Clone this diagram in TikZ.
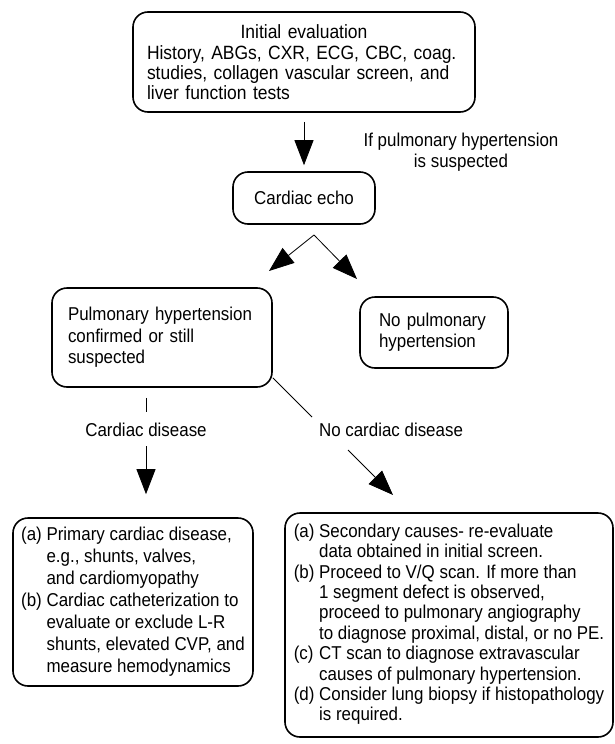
\documentclass[tikz,border=0pt]{standalone}
\usepackage{fontspec}
\setmainfont[FakeStretch=0.91]{Liberation Sans}
\usetikzlibrary{arrows.meta}

\begin{document}
\begin{tikzpicture}[x=1pt,y=-1pt,
  >={Triangle[length=25pt,width=19pt]},
  font=\fontsize{18.6}{20.4}\selectfont,
  box/.style={draw,line width=1.6pt,rounded corners=15pt,inner sep=0pt},
  link/.style={line width=0.8pt},
  lbl/.style={inner sep=0pt,align=center}]
  \useasboundingbox (0,0) rectangle (614,744);

  \node[box,align=left,minimum width=342pt,minimum height=100pt,text width=322pt,
        font=\fontsize{19.2}{20}\selectfont] (eval) at (304,62)
    {\makebox[322pt]{Initial evaluation}\\[1pt]\hspace*{4pt}History, ABGs, CXR, ECG, CBC, coag.\\\hspace*{4pt}studies, collagen vascular screen, and\\\hspace*{4pt}liver function tests};
  \node[lbl] (suspect) at (461,152) {If pulmonary hypertension\\is suspected};
  \node[box,minimum width=142pt,minimum height=52pt] (echo) at (304,198) {Cardiac echo};
  \node[box,align=left,minimum width=220pt,minimum height=99pt,text width=188pt,
        font=\fontsize{18.6}{21.5}\selectfont] (confirmed) at (162,337.5)
    {Pulmonary hypertension\\confirmed or still\\suspected};
  \node[box,align=left,minimum width=148pt,minimum height=71pt,text width=110pt,
        font=\fontsize{18.6}{21}\selectfont] (nopulm) at (434,332.5)
    {No pulmonary\\hypertension};
  \node[lbl] (cardis) at (146,430) {Cardiac disease};
  \node[lbl] (nocardis) at (391,430) {No cardiac disease};
  \node[box,minimum width=240pt,minimum height=168pt,
        font=\fontsize{18.6}{22}\selectfont] (primary) at (133,602)
    {\begin{tabular}{@{}l@{ }l@{}}
      (a) & Primary cardiac disease,\\
          & e.g., shunts, valves,\\
          & and cardiomyopathy\\
      (b) & Cardiac catheterization to\\
          & evaluate or exclude L-R\\
          & shunts, elevated CVP, and\\
          & measure hemodynamics
    \end{tabular}};
  \node[box,minimum width=328pt,minimum height=224pt] (secondary) at (449,625)
    {\begin{tabular}{@{}l@{ }l@{}}
      (a) & Secondary causes- re-evaluate\\
          & data obtained in initial screen.\\
      (b) & Proceed to V/Q scan. If more than\\
          & 1 segment defect is observed,\\
          & proceed to pulmonary angiography\\
          & to diagnose proximal, distal, or no PE.\\
      (c) & CT scan to diagnose extravascular\\
          & causes of pulmonary hypertension.\\
      (d) & Consider lung biopsy if histopathology\\
          & is required.
    \end{tabular}};

  \coordinate (fork) at (314,235);
  \coordinate (forkL) at (269,271);
  \coordinate (forkR) at (357,279);
  \coordinate (bend) at (312,417);
  \coordinate (goon) at (348,450);
  \coordinate (gotip) at (393,495);

  \draw[link,->] ([yshift=-9pt]eval.south) -- ([yshift=6pt]echo.north);
  \draw[link,->] (fork) -- (forkL);
  \draw[link,->] (fork) -- (forkR);
  \draw[link,shorten <=10pt,shorten >=11pt] (confirmed.south -| cardis) -- (cardis.north);
  \draw[link,->,shorten <=9pt,shorten >=23pt] (cardis.south) -- (primary.north -| cardis);
  \draw[link] (confirmed.-20) -- (bend);
  \draw[link,->] (goon) -- (gotip);
\end{tikzpicture}
\end{document}
